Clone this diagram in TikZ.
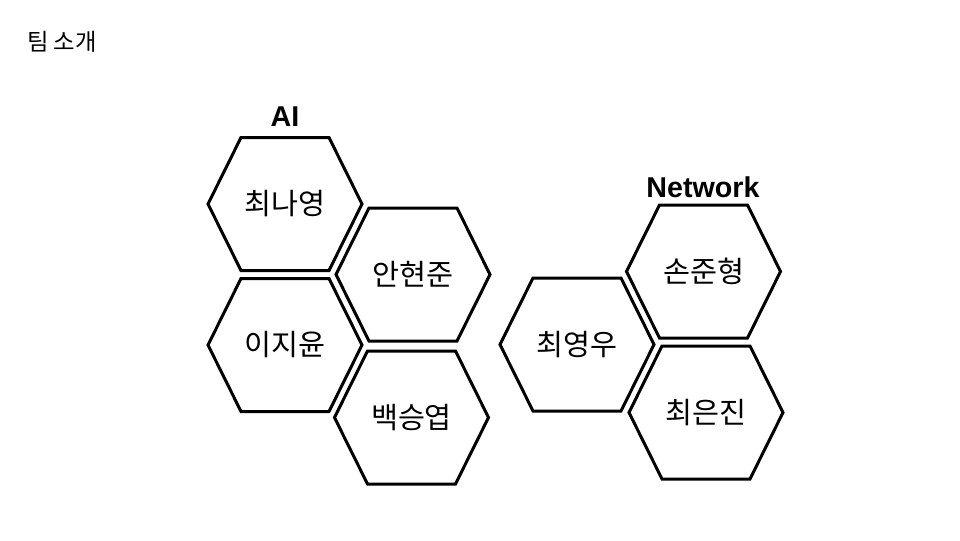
\documentclass[tikz,border=0pt]{standalone}
\usepackage{fontspec}
\setmainfont{Liberation Sans}
\newfontfamily\kr{Noto Sans CJK KR}
\usetikzlibrary{calc}

\begin{document}
\begin{tikzpicture}[x=0.75pt, y=-0.75pt,
  line width=2.25pt,
  every node/.style={font=\kr\fontsize{22}{26}\selectfont},
  team/.style={font=\bfseries\fontsize{21.5}{26}\selectfont}
 ]
 \useasboundingbox (0,0) rectangle (960,540);
 \node [font=\kr\fontsize{17.5}{21}\selectfont] (T) at (62,42) {팀 소개};

 % AI
 \node (A1) at (285,204) {최나영};
 \node (A2) at (413,274.5) {안현준};
 \node (A3) at (285,345) {이지윤};
 \node (A4) at (411.5,417.5) {백승엽};
 \node [team] (AI) at (285,117) {AI};

 % Network
 \node (N1) at (577,344.5) {최영우};
 \node (N2) at (703.5,271.5) {손준형};
 \node (N3) at (706,412.5) {최은진};
 \node [team] (NW) at (703,187) {Network};

 \foreach \n in {A1,A2,A3,A4,N1,N2,N3} {
  \draw ($(\n)+(-77,0)$) -- ($(\n)+(-44,-66.5)$) -- ($(\n)+(44,-66.5)$)
   -- ($(\n)+(77,0)$) -- ($(\n)+(44,66.5)$) -- ($(\n)+(-44,66.5)$) -- cycle;
 }
\end{tikzpicture}
\end{document}
